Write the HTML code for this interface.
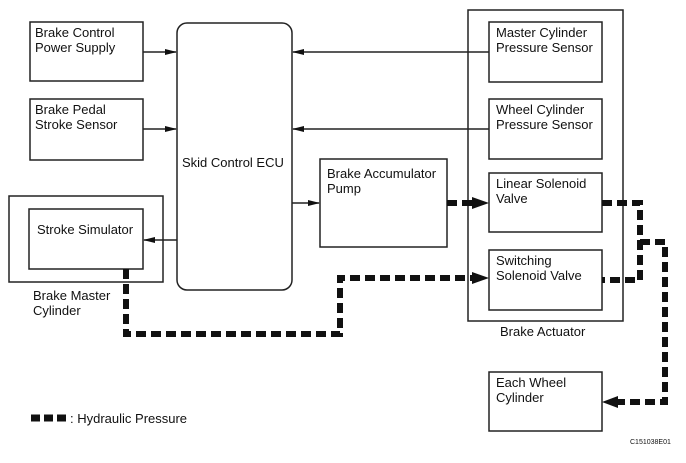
<!DOCTYPE html>
<html><head><style>
body{margin:0;background:#fff;}
svg text{font-family:"Liberation Sans",Arial,sans-serif;font-size:13px;fill:#111;}
</style></head><body>
<svg width="686" height="458" viewBox="0 0 686 458" xmlns="http://www.w3.org/2000/svg">
<defs>
<marker id="a" markerWidth="12" markerHeight="8" refX="11" refY="4" orient="auto" markerUnits="userSpaceOnUse"><path d="M0,1 L12,4 L0,7 Z" fill="#111"/></marker>
</defs>
<g fill="none" stroke="#222" stroke-width="1.5">
<rect x="30" y="22" width="113" height="59"/>
<rect x="30" y="99" width="113" height="61"/>
<rect x="177" y="23" width="115" height="267" rx="10"/>
<rect x="9" y="196" width="154" height="86"/>
<rect x="29" y="209" width="114" height="60"/>
<rect x="320" y="159" width="127" height="88"/>
<rect x="468" y="10" width="155" height="311"/>
<rect x="489" y="22" width="113" height="60"/>
<rect x="489" y="99" width="113" height="60"/>
<rect x="489" y="173" width="113" height="59"/>
<rect x="489" y="250" width="113" height="60"/>
<rect x="489" y="372" width="113" height="59"/>
</g>
<g stroke="#222" stroke-width="1.5" fill="none">
<line x1="143" y1="52" x2="176" y2="52" marker-end="url(#a)"/>
<line x1="143" y1="129" x2="176" y2="129" marker-end="url(#a)"/>
<line x1="489" y1="52" x2="293" y2="52" marker-end="url(#a)"/>
<line x1="489" y1="129" x2="293" y2="129" marker-end="url(#a)"/>
<line x1="292" y1="203" x2="319" y2="203" marker-end="url(#a)"/>
<line x1="177" y1="240" x2="144" y2="240" marker-end="url(#a)"/>
</g>
<g stroke="#111" stroke-width="6" fill="none" stroke-dasharray="10,5">
<polyline points="126,269 126,334 340,334 340,278 475,278"/>
<line x1="447" y1="203" x2="475" y2="203"/>
<polyline points="602,203 640,203 640,280 602,280"/>
<polyline points="640,242 665,242 665,402 616,402"/>
</g>
<g stroke="#111" stroke-width="7" fill="none" stroke-dasharray="9,4">
<line x1="31" y1="418" x2="66" y2="418"/>
</g>
<g fill="#111">
<path d="M472,197 L489,203 L472,209 Z"/>
<path d="M472,272 L489,278 L472,284 Z"/>
<path d="M618,396 L602,402 L618,408 Z"/>
</g>
<text x="35" y="37">Brake Control</text>
<text x="35" y="52">Power Supply</text>
<text x="35" y="114">Brake Pedal</text>
<text x="35" y="129">Stroke Sensor</text>
<text x="182" y="167">Skid Control ECU</text>
<text x="37" y="234">Stroke Simulator</text>
<text x="33" y="300">Brake Master</text>
<text x="33" y="315">Cylinder</text>
<text x="327" y="178">Brake Accumulator</text>
<text x="327" y="193">Pump</text>
<text x="496" y="37">Master Cylinder</text>
<text x="496" y="52">Pressure Sensor</text>
<text x="496" y="114">Wheel Cylinder</text>
<text x="496" y="129">Pressure Sensor</text>
<text x="496" y="188">Linear Solenoid</text>
<text x="496" y="203">Valve</text>
<text x="496" y="265">Switching</text>
<text x="496" y="280">Solenoid Valve</text>
<text x="500" y="336">Brake Actuator</text>
<text x="496" y="387">Each Wheel</text>
<text x="496" y="402">Cylinder</text>
<text x="70" y="423">: Hydraulic Pressure</text>
<text x="630" y="444" style="font-size:7px">C151038E01</text>
</svg>
</body></html>
